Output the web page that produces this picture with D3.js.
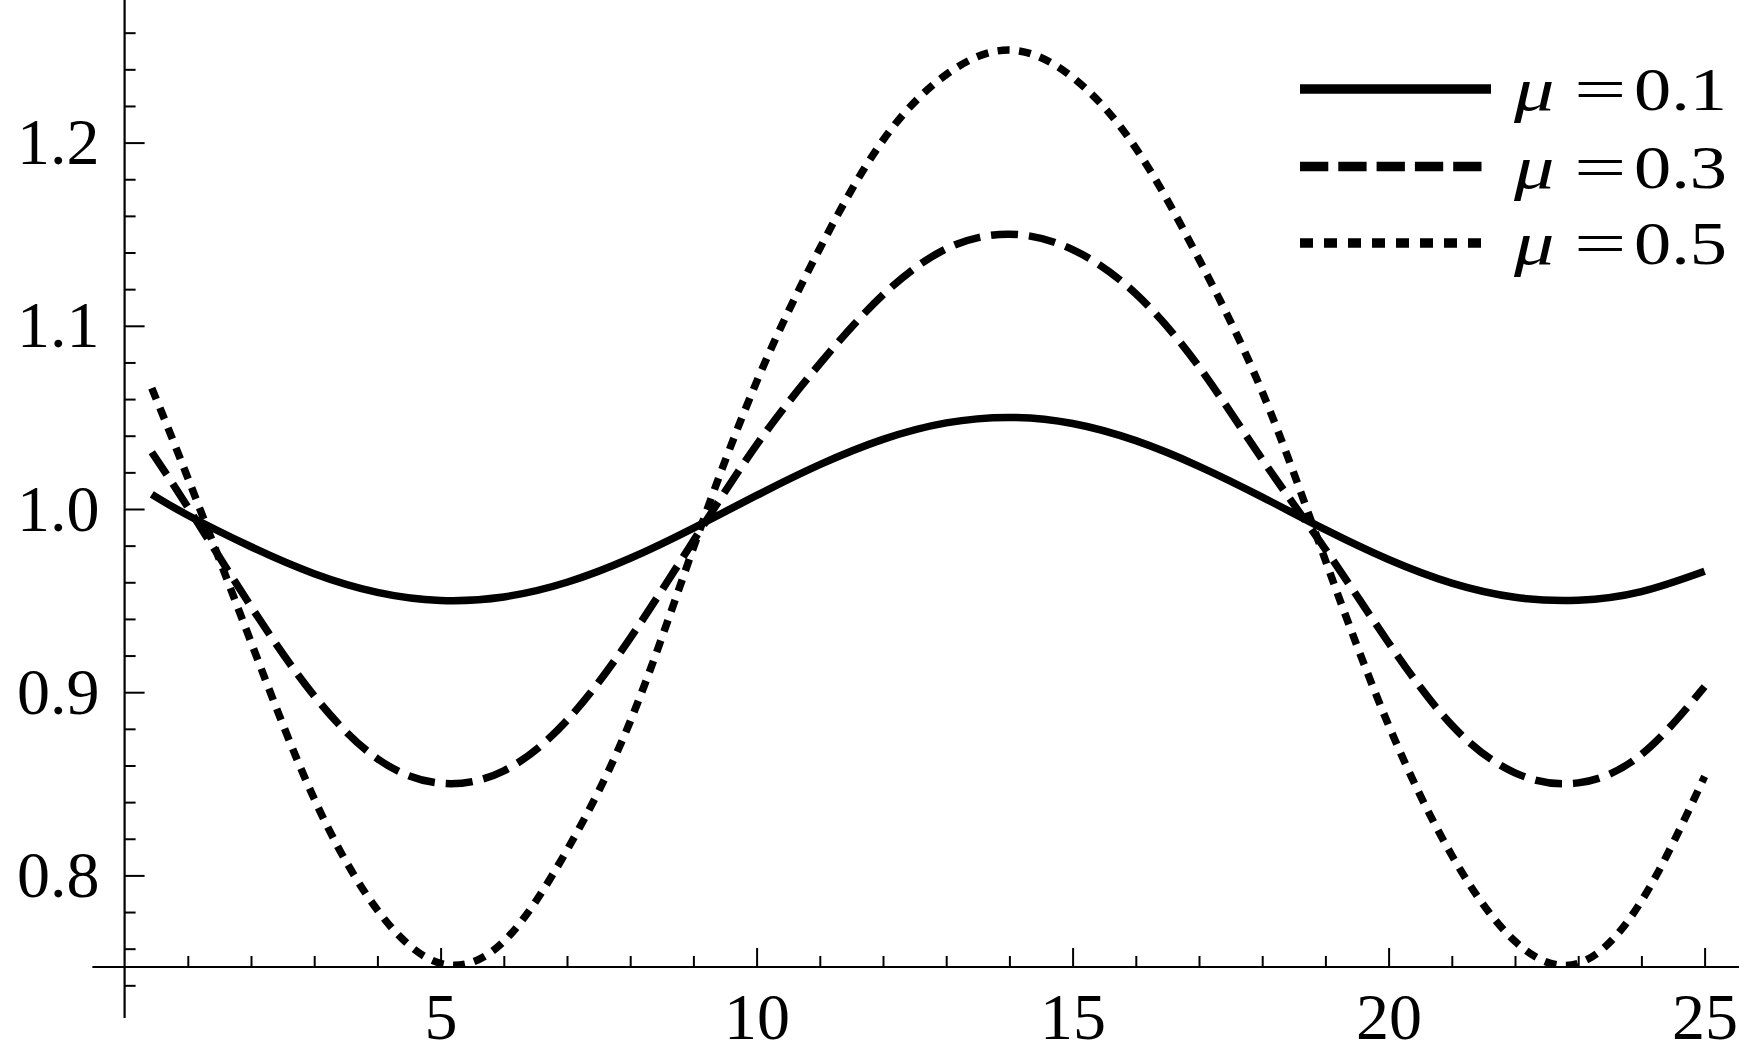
<!DOCTYPE html>
<html><head><meta charset="utf-8">
<script src="https://cdn.jsdelivr.net/npm/d3@7"></script>
<style>
html,body{margin:0;padding:0;background:#fff;}
svg{display:block;}
</style></head><body>
<svg id="chart" width="1739" height="1054"></svg>
<script>
// ---- data ----
const xValues = [0.43, 1, 2, 3, 4, 5, 6, 7, 8, 9, 10, 11, 12, 13, 14, 15, 16, 17, 18, 19, 20, 21, 22, 23, 24, 25];
const mu01 = [1.008, 0.9966, 0.9794, 0.9647, 0.9545, 0.9501, 0.9520, 0.9600, 0.9731, 0.9896, 1.0074, 1.0242, 1.0380, 1.0470, 1.0500, 1.0467, 1.0373, 1.0233, 1.0065, 0.9887, 0.9724, 0.9595, 0.9518, 0.9502, 0.9549, 0.9660];
const mu03 = [1.031, 1.001, 0.9468, 0.898, 0.8637, 0.8503, 0.8571, 0.8846, 0.9295, 0.9826, 1.035, 1.0793, 1.1169, 1.142, 1.150, 1.1416, 1.1175, 1.0776, 1.0271, 0.978, 0.927, 0.882, 0.856, 0.8505, 0.866, 0.903];
const mu05 = [1.066, 1.017, 0.9274, 0.8418, 0.7811, 0.752, 0.764, 0.8138, 0.884, 0.9788, 1.0694, 1.1422, 1.2013, 1.2371, 1.2505, 1.2356, 1.197, 1.1363, 1.064, 0.972, 0.882, 0.811, 0.764, 0.752, 0.786, 0.854];
const seriesLabels = ["0.1", "0.3", "0.5"];
const xMajorTicks = [5, 10, 15, 20, 25];
const xTickLabels = ["5", "10", "15", "20", "25"];
const xMinorTicks = [1,2,3,4,6,7,8,9,11,12,13,14,16,17,18,19,21,22,23,24];
const yMajorTicks = [0.8, 0.9, 1.0, 1.1, 1.2];
const yTickLabels = ["0.8", "0.9", "1.0", "1.1", "1.2"];
const yMinorTicks = [0.74,0.76,0.78,0.82,0.84,0.86,0.88,0.92,0.94,0.96,0.98,1.02,1.04,1.06,1.08,1.12,1.14,1.16,1.18,1.22,1.24,1.26];
const xAxisExtent = [-0.51, 25.6];
const yAxisExtent = [0.7222, 1.28];

// ---- layout ----
const svg = d3.select("#chart");
const x = d3.scaleLinear().domain([0, 25]).range([124.6, 1704.6]);
const y = d3.scaleLinear().domain([0.75, 1.0]).range([967, 509]);
const FONT = "'Liberation Serif','Times New Roman',serif";

svg.append("rect").attr("width", 1739).attr("height", 1054).attr("fill", "#fff");

// axis lines
svg.append("line")
  .attr("x1", x(xAxisExtent[0])).attr("x2", x(xAxisExtent[1]))
  .attr("y1", y(0.75)).attr("y2", y(0.75))
  .attr("stroke", "#000").attr("stroke-width", 2.2);
svg.append("line")
  .attr("x1", x(0)).attr("x2", x(0))
  .attr("y1", y(yAxisExtent[0])).attr("y2", y(yAxisExtent[1]))
  .attr("stroke", "#000").attr("stroke-width", 2.2);

function styleAxis(g) {
  g.select(".domain").remove();
  g.selectAll(".tick line").attr("stroke", "#000").attr("stroke-width", 2);
  g.selectAll(".tick text").attr("font-family", FONT).attr("font-size", 66).attr("fill", "#000");
}

// y axis
svg.append("g").attr("transform", `translate(${x(0)},0)`)
  .call(d3.axisLeft(y).tickValues(yMinorTicks).tickSize(-11).tickFormat(""))
  .call(styleAxis);
svg.append("g").attr("transform", `translate(${x(0)},0)`)
  .call(d3.axisLeft(y).tickValues(yMajorTicks).tickSize(-20).tickPadding(25)
    .tickFormat((d, i) => yTickLabels[i]))
  .call(styleAxis);

// x axis
svg.append("g").attr("transform", `translate(0,${y(0.75)})`)
  .call(d3.axisBottom(x).tickValues(xMinorTicks).tickSize(-11).tickFormat(""))
  .call(styleAxis);
svg.append("g").attr("transform", `translate(0,${y(0.75)})`)
  .call(d3.axisBottom(x).tickValues(xMajorTicks).tickSize(-19).tickPadding(25)
    .tickFormat((d, i) => xTickLabels[i]))
  .call(styleAxis);

// clip
svg.append("defs").append("clipPath").attr("id", "plotclip")
  .append("rect").attr("x", x(0)).attr("y", 0)
  .attr("width", 1739 - x(0)).attr("height", y(0.75) + 1);

const series = [
  {vals: mu01, dash: null},
  {vals: mu03, dash: "27,11"},
  {vals: mu05, dash: "12,9.5"}
];
const line = d3.line().x(d => x(d[0])).y(d => y(d[1])).curve(d3.curveNatural);
const gPlot = svg.append("g").attr("clip-path", "url(#plotclip)");
series.forEach(s => {
  gPlot.append("path")
    .attr("d", line(xValues.map((v, i) => [v, s.vals[i]])))
    .attr("fill", "none").attr("stroke", "#000").attr("stroke-width", 7.5)
    .attr("stroke-linecap", "butt")
    .attr("stroke-dasharray", s.dash);
});

// legend
const legendDash = [null, "28.3,10", "13,11"];
const rowY = [89, 166.5, 243];
const gLeg = svg.append("g");
seriesLabels.forEach((lab, i) => {
  gLeg.append("line").attr("x1", 1300).attr("x2", 1491)
    .attr("y1", rowY[i]).attr("y2", rowY[i])
    .attr("stroke", "#000").attr("stroke-width", 9.5)
    .attr("stroke-dasharray", legendDash[i]);
  const by = rowY[i] + 21;
  gLeg.append("text").attr("transform", `translate(1514,${by}) scale(1.3,1)`)
    .attr("font-family", FONT).attr("font-size", 62).attr("font-style", "italic")
    .text("\u03bc");
  gLeg.append("text").attr("transform", `translate(1574,${by}) scale(1.5,1)`)
    .attr("font-family", FONT).attr("font-size", 62)
    .text("=");
  gLeg.append("text").attr("transform", `translate(1634,${by}) scale(1.2,1)`)
    .attr("font-family", FONT).attr("font-size", 62)
    .text(lab);
});
</script>
</body></html>
